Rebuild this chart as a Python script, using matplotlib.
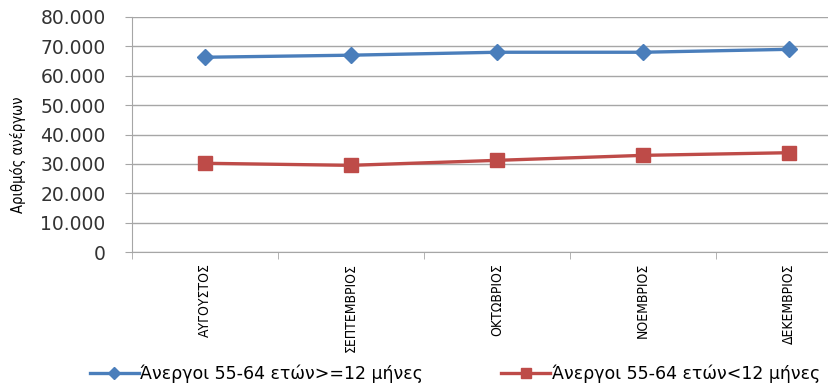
import matplotlib.pyplot as plt
from matplotlib.ticker import FuncFormatter

months = ['ΑΥΓΟΥΣΤΟΣ', 'ΣΕΠΤΕΜΒΡΙΟΣ', 'ΟΚΤΩΒΡΙΟΣ', 'ΝΟΕΜΒΡΙΟΣ', 'ΔΕΚΕΜΒΡΙΟΣ']
long_term = [66300, 67000, 68000, 68000, 69000]
short_term = [30200, 29500, 31200, 32900, 33800]
label_long = 'Άνεργοι 55-64 ετών>=12 μήνες'
label_short = 'Άνεργοι 55-64 ετών<12 μήνες'

fig = plt.figure(figsize=(8.29, 3.85), dpi=100)
ax = fig.add_axes([132 / 829, 1 - 252 / 385, 730 / 829, 235 / 385])

x = list(range(len(months)))
ax.plot(x, long_term, color='#4a7ebb', lw=2.4, marker='D', ms=8.5,
        label=label_long)
ax.plot(x, short_term, color='#be4b48', lw=2.4, marker='s', ms=10.5,
        label=label_short)

ax.set_xlim(-0.5, len(months) - 0.5)
ax.set_ylim(0, 80000)
ax.set_yticks(range(0, 80001, 10000))
ax.yaxis.set_major_formatter(FuncFormatter(
    lambda v, p: '0' if v == 0 else f'{int(v):,}'.replace(',', '.')))
ax.grid(axis='y', color='#a6a6a6', lw=1)
ax.set_axisbelow(True)

ax.set_xticks(x)
ax.set_xticklabels(months, rotation=90, family='DejaVu Sans',
                   fontstretch='condensed', fontsize=10)
ax.set_xticks([i + 0.5 for i in range(-1, len(months))], minor=True)
ax.tick_params(axis='x', which='major', length=0, pad=8)
ax.tick_params(axis='x', which='minor', length=5, color='#a6a6a6')
ax.tick_params(axis='y', length=5, color='#a6a6a6', labelsize=13.5,
               labelcolor='#333333', pad=14)

for s in ['top', 'right']:
    ax.spines[s].set_visible(False)
for s in ['left', 'bottom']:
    ax.spines[s].set_color('#a6a6a6')

fig.text(18 / 829, 1 - 155 / 385, 'Αριθμός ανέργων', rotation=90,
         ha='center', va='center', family='DejaVu Sans',
         fontstretch='condensed', fontsize=10.5)

fig.legend(loc='center left', bbox_to_anchor=(90 / 829, 1 - 374 / 385),
           ncol=2, frameon=False, fontsize=12.5, columnspacing=4.5,
           handlelength=2.8, handletextpad=0.1, borderpad=0,
           borderaxespad=0, markerscale=0.7)

fig.savefig('out.png', dpi=100)
